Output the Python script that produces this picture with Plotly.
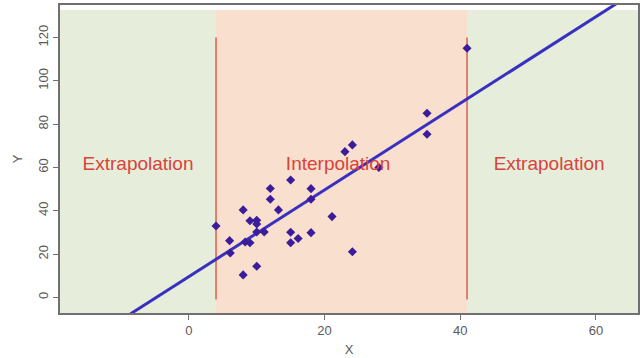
import numpy as np
import plotly.graph_objects as go

# Data
x_vals = [4.0, 6.0, 6.1, 8.0, 8.0, 8.3, 9.0, 9.0, 10.0, 10.0, 10.0, 10.0, 11.1, 12.0, 12.0,
          13.2, 15.0, 15.0, 15.0, 16.1, 18.0, 18.0, 18.0, 21.1, 23.0, 24.1, 24.1, 28.0,
          35.1, 35.1, 41.0]
y_vals = [33.0, 26.2, 20.5, 40.4, 10.4, 25.6, 35.4, 25.2, 35.6, 33.9, 30.2, 14.4, 30.2, 50.3, 45.3,
          40.4, 54.2, 30.1, 25.2, 27.2, 50.2, 45.3, 29.9, 37.3, 67.3, 70.4, 21.1, 60.0,
          85.0, 75.3, 115.0]
fit_intercept = [9.6]
fit_slope = [2.0]
interp_bounds = [4.0, 41.0]
vline_y = [-1.0, 120.0]
labels = ["Extrapolation", "Interpolation", "Extrapolation"]
label_x = [-7.5, 22.0, 53.1]
label_y = [61.0, 61.0, 61.0]
x_ticks = [0, 20, 40, 60]
y_ticks = [0, 20, 40, 60, 80, 100, 120]

x_range = [-19.0, 66.2]
y_range = [-7.2, 135.0]
fill_top = 132.7

GREEN = "#e7eddb"
PEACH = "#f9dfcd"
RED = "#db5f4d"
FONT = "Arial, Liberation Sans, sans-serif"

fig = go.Figure()

shapes = [
    dict(type="rect", xref="x", yref="y", x0=x_range[0], x1=interp_bounds[0], y0=y_range[0], y1=fill_top,
         fillcolor=GREEN, line_width=0, layer="below"),
    dict(type="rect", xref="x", yref="y", x0=interp_bounds[0], x1=interp_bounds[1], y0=y_range[0], y1=fill_top,
         fillcolor=PEACH, line_width=0, layer="below"),
    dict(type="rect", xref="x", yref="y", x0=interp_bounds[1], x1=x_range[1], y0=y_range[0], y1=fill_top,
         fillcolor=GREEN, line_width=0, layer="below"),
]
for b in interp_bounds:
    shapes.append(dict(type="line", xref="x", yref="y", x0=b, x1=b, y0=vline_y[0], y1=vline_y[1],
                       line=dict(color=RED, width=1.5), layer="below"))

lx = np.array([x_range[0], x_range[1]])
ly = fit_intercept[0] + fit_slope[0] * lx
fig.add_trace(go.Scatter(x=lx, y=ly, mode="lines", line=dict(color="#3a30c0", width=3),
                         hoverinfo="skip", showlegend=False))

fig.add_trace(go.Scatter(x=x_vals, y=y_vals, mode="markers",
                         marker=dict(symbol="diamond", size=7, color="#3b1d9c"),
                         showlegend=False))

fig.add_trace(go.Scatter(x=label_x, y=label_y, mode="text", text=labels,
                         textfont=dict(family=FONT, size=19, color="#d8433a"),
                         textposition="middle center", hoverinfo="skip", showlegend=False))

axis_common = dict(showgrid=False, zeroline=False, showline=True, mirror=True, automargin=False,
                   linecolor="#707070", linewidth=1.5, ticks="outside", ticklen=5,
                   tickcolor="#707070",
                   tickfont=dict(family=FONT, size=13, color="#5a5a5a"))

fig.update_layout(
    width=643, height=358,
    margin=dict(l=60, r=5, t=5, b=45, autoexpand=False),
    paper_bgcolor="white", plot_bgcolor="white",
    shapes=shapes,
    xaxis=dict(range=x_range, tickvals=x_ticks, title=dict(text="X", standoff=8,
               font=dict(family=FONT, size=13, color="#5a5a5a")),
               **axis_common),
    yaxis=dict(range=y_range, tickvals=y_ticks, tickangle=-90, title=dict(text="Y", standoff=10,
               font=dict(family=FONT, size=13, color="#5a5a5a")),
               **axis_common),
)

fig.write_html("out.html", config={"displayModeBar": False},
               post_script="document.body.style.margin='0';")
